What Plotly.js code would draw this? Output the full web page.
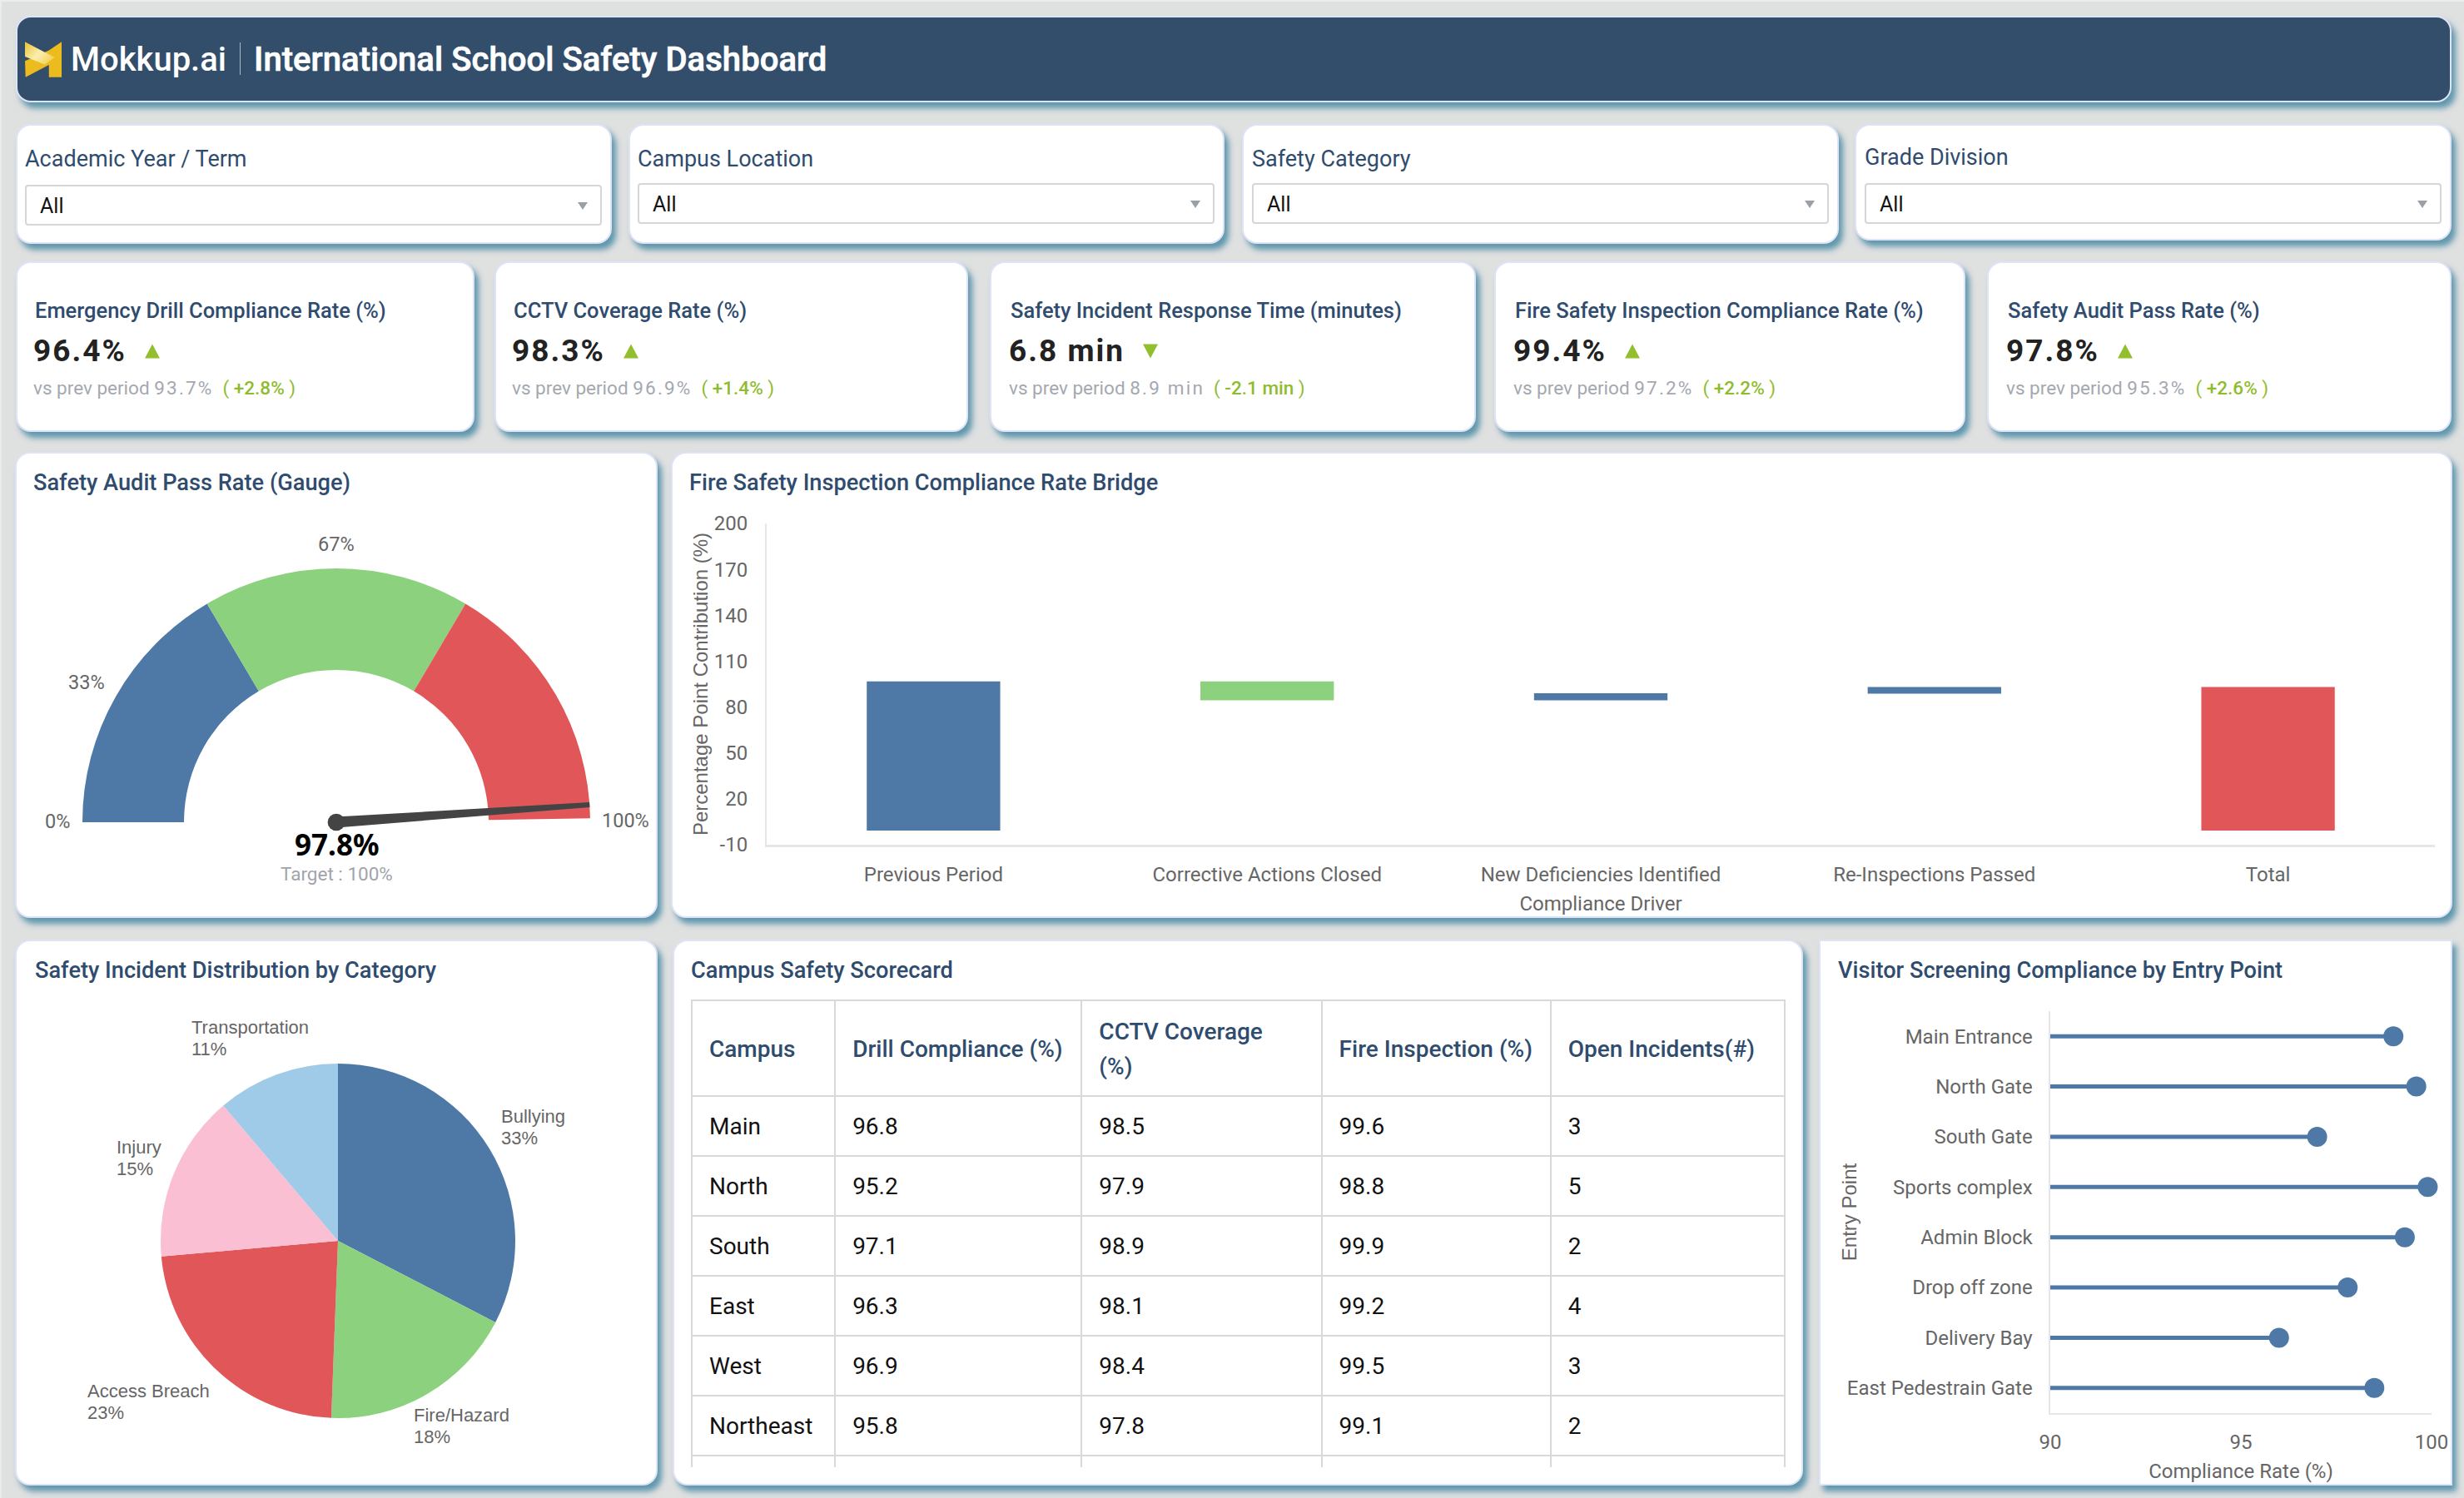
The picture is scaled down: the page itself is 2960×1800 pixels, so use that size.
<!DOCTYPE html>
<html><head><meta charset="utf-8">
<script src="https://cdn.plot.ly/plotly-3.0.1.min.js"></script>
<style>
html,body{margin:0;padding:0;width:2960px;height:1800px;overflow:hidden;background:#dfe0e0;font-family:Roboto,sans-serif}
.card{position:absolute;box-sizing:border-box;background:#fff;border:2px solid #dfe3f7;border-radius:18px;box-shadow:5px 7px 7px #5f97ad}
.abs{position:absolute;white-space:nowrap;line-height:1}
.title{color:#2f4c6e;font-weight:500;font-size:27.2px;transform:translateY(-50%)}
#chart{position:absolute;left:0;top:0;width:2960px;height:1800px}
#chart .scrollbar-kit{display:none}
#chart .cell-text{transform:translate(13px,17px)}
#chart #header .cell-text{transform:translate(13px,39px)}
#chart .g-y2title{transform:translateX(19px)}
</style></head><body>
<div id="chrome"></div>
<div id="chart"></div>
<script>
// ---- data ----
const dashboardTitle = "International School Safety Dashboard";
const brandName = "Mokkup.ai";
const filterLabels = ["Academic Year / Term","Campus Location","Safety Category","Grade Division"];
const filterValue = "All";
const kpiTitles = ["Emergency Drill Compliance Rate (%)","CCTV Coverage Rate (%)","Safety Incident Response Time (minutes)","Fire Safety Inspection Compliance Rate (%)","Safety Audit Pass Rate (%)"];
const kpiValues = ["96.4%","98.3%","6.8 min","99.4%","97.8%"];
const kpiUp = [true,true,false,true,true];
const kpiPrev = ["93.7%","96.9%","8.9 min","97.2%","95.3%"];
const kpiDelta = ["+2.8%","+1.4%","-2.1 min","+2.2%","+2.6%"];
const panelTitles = ["Safety Audit Pass Rate (Gauge)","Fire Safety Inspection Compliance Rate Bridge","Safety Incident Distribution by Category","Campus Safety Scorecard","Visitor Screening Compliance by Entry Point"];

const gaugeBands = [33,34,32.5];
const gaugeTicks = ["0%","33%","67%","100%"];
const gaugeValue = 97.8;
const gaugeTarget = 100;

const bridgeCategories = ["Previous Period","Corrective Actions Closed","New Deficiencies Identified","Re-Inspections Passed","Total"];
const bridgeBase = [-0.7,84.4,84.4,88.7,-0.7];
const bridgeHeight = [97.5,12.4,4.6,4.4,93.8];
const bridgeTicks = [-10,20,50,80,110,140,170,200];

const pieLabels = ["Bullying","Fire/Hazard","Access Breach","Injury","Transportation"];
const pieValues = [32.6,18,23,15.2,11.2];

const tableHeader = ["Campus","Drill Compliance (%)","CCTV Coverage<br>(%)","Fire Inspection (%)","Open Incidents(#)"];
const campusNames = ["Main","North","South","East","West","Northeast",""];
const drillCompliance = ["96.8","95.2","97.1","96.3","96.9","95.8",""];
const cctvCoverage = ["98.5","97.9","98.9","98.1","98.4","97.8",""];
const fireInspection = ["99.6","98.8","99.9","99.2","99.5","99.1",""];
const openIncidents = ["3","5","2","4","3","2",""];

const entryPoints = ["Main Entrance","North Gate","South Gate","Sports complex","Admin Block","Drop off zone","Delivery Bay","East Pedestrain Gate"];
const screeningRates = [99.0,99.6,97.0,99.9,99.3,97.8,96.0,98.5];
const screeningTicks = [90,95,100];

// ---- palette ----
const BLUE="#4E79A7",GREEN="#8CD17D",RED="#E15759",PINK="#FABFD2",SKY="#A0CBE8",GREY="#666666",AXIS="#e6e6e6";

// ---- page chrome (cards and text) ----
const W=2960,H=1800;
const chrome=document.getElementById('chrome');
function el(cls,css,html){const d=document.createElement('div');d.className=cls;d.style.cssText=css;if(html!==undefined)d.innerHTML=html;chrome.appendChild(d);return d;}
function card(x0,y0,x1,y1,extra){return el('card',`left:${x0}px;top:${y0}px;width:${x1-x0}px;height:${y1-y0}px;${extra||''}`);}

el('abs','left:0;top:0;width:2960px;height:2px;background:#ececec;');
el('abs','left:0;top:0;width:2px;height:1800px;background:#ececec;');
card(19,19,2945,123,'background:#324e6b;');
chrome.insertAdjacentHTML('beforeend',`<svg class="abs" style="left:30px;top:50px" width="44" height="43" viewBox="0 0 130 125">
<defs><linearGradient id="lg" x1="0" y1="0" x2="1" y2="0.7"><stop offset="0" stop-color="#e8c12f"/><stop offset="0.55" stop-color="#fbeeb0"/><stop offset="1" stop-color="#f3d25a"/></linearGradient></defs>
<path d="M130 0V125H85V82L2 125L0 68L48 47L85 30Z" fill="#ecbb1e"/><path d="M0 0L105 55L70 80L0 52Z" fill="url(#lg)"/></svg>`);
el('abs',`left:85px;top:72px;transform:translateY(-50%);color:#fff;font-size:40px;font-weight:500;`,brandName);
el('abs',`left:288px;top:51px;width:1px;height:39px;background:#a9b6c5;`);
el('abs',`left:305px;top:72px;transform:translateY(-50%);color:#fff;font-size:40px;font-weight:500;-webkit-text-stroke:0.7px #fff;letter-spacing:0.05px;`,dashboardTitle);

const filterBoxes=[[19,149,735,293,30,723,191,222],[755,149,1471,293,766,1459,191,220],[1492,149,2209,293,1504,2197,191,220],[2228,149,2945,289,2240,2933,189,220]];
filterLabels.forEach((t,i)=>{const b=filterBoxes[i];
  card(b[0],b[1],b[2],b[3]);
  el('abs',`left:${b[4]}px;top:${b[6]}px;transform:translateY(-50%);color:#2f4c6e;font-size:27px;`,t);
  el('abs',`box-sizing:border-box;left:${b[4]}px;top:${b[7]}px;width:${b[5]-b[4]}px;height:49px;border:2px solid #d6d6d6;border-radius:4px;background:#fff;`);
  el('abs',`left:${b[4]+18}px;top:${b[7]+25}px;transform:translateY(-50%);color:#111;font-size:25px;`,filterValue);
  el('abs',`left:${b[5]-29}px;top:${b[7]+21}px;width:0;height:0;border-left:6px solid transparent;border-right:6px solid transparent;border-top:9px solid #9aa0a6;`);
});

const kpiBoxes=[[19,570,42],[594,1163,617],[1189,1773,1214],[1795,2361,1820],[2387,2945,2412]];
kpiTitles.forEach((t,i)=>{const b=kpiBoxes[i];
  card(b[0],314,b[1],519);
  el('abs',`left:${b[2]}px;top:374px;transform:translateY(-50%);color:#2f4c6e;font-size:25.5px;font-weight:500;`,t);
  const tri=kpiUp[i]?'border-bottom:17px solid #92bf2d;':'border-top:17px solid #92bf2d;';
  el('abs',`left:${b[2]-2}px;top:421px;transform:translateY(-50%);color:#222;font-size:37px;font-weight:700;letter-spacing:2px;`,
     kpiValues[i]+`<span style="display:inline-block;width:0;height:0;margin-left:22px;vertical-align:3px;border-left:9px solid transparent;border-right:9px solid transparent;${tri}"></span>`);
  el('abs',`left:${b[2]-2}px;top:466px;transform:translateY(-50%);color:#a4a8b0;font-size:22.5px;`,
     `vs prev period <span style="letter-spacing:2.2px">${kpiPrev[i]}</span><span style="color:#8fbc2f;margin-left:11px">( <span style="font-weight:500">${kpiDelta[i]}</span> )</span>`);
});

card(18,543,790,1103);card(806,543,2946,1103);
card(18,1129,790,1785);card(808,1129,2166,1785);
card(2185,1129,2946,1785,'border-radius:0;');
el('abs title','left:40px;top:581px;',panelTitles[0]);
el('abs title','left:828px;top:581px;',panelTitles[1]);
el('abs title','left:42px;top:1167px;',panelTitles[2]);
el('abs title','left:830px;top:1167px;',panelTitles[3]);
el('abs title','left:2208px;top:1167px;',panelTitles[4]);

// ---- plotly helpers: page pixels to paper fractions ----
const px=x=>x/W, py=y=>1-y/H;
const domX=(a,b)=>[px(a),px(b)], domY=(top,bottom)=>[py(bottom),py(top)];
const tickFont={family:'Roboto',size:24,color:GREY};
const annotations=[];
function note(text,x,y,o){annotations.push(Object.assign({text,xref:'paper',yref:'paper',x:px(x),y:py(y),showarrow:false,xanchor:'center',yanchor:'middle',font:{family:'Roboto',size:23.5,color:GREY}},o||{}));}

// gauge
const GC={x:404,y:988,r:305};
const gaugeHidden=200-gaugeBands.reduce((a,b)=>a+b,0);
const gaugeTrace={type:'pie',values:[...gaugeBands,gaugeHidden],sort:false,direction:'clockwise',rotation:-90,hole:0.6,
  marker:{colors:[BLUE,GREEN,RED,'rgba(0,0,0,0)'],line:{width:0}},textinfo:'none',hoverinfo:'skip',showlegend:false,
  domain:{x:domX(GC.x-GC.r,GC.x+GC.r),y:domY(GC.y-GC.r,GC.y+GC.r)}};
note(gaugeTicks[0],86,987,{xanchor:'right'});
note(gaugeTicks[1],104,820);
note(gaugeTicks[2],404,654);
note(gaugeTicks[3],751,986);
note(gaugeValue.toFixed(1)+'%',404,1014,{font:{family:'Noto Sans',size:35,color:'#000',weight:700}});
note('Target : '+gaugeTarget+'%',404,1050,{font:{family:'Roboto',size:22.5,color:'#a0a4ab'}});
const theta=Math.PI*(1-gaugeValue/100);
const nx=Math.cos(theta),ny=Math.sin(theta),tx=-ny,ty=nx;
const needlePath=`M ${0.021*tx} ${0.021*ty} L ${nx+0.01*tx} ${ny+0.01*ty} L ${nx-0.01*tx} ${ny-0.01*ty} L ${-0.021*tx} ${-0.021*ty} Z`;
const shapes=[
 {type:'path',xref:'x3',yref:'y3',path:needlePath,fillcolor:'#444',line:{width:0},layer:'above'},
 {type:'circle',xref:'x3',yref:'y3',x0:-0.034,x1:0.034,y0:-0.034,y1:0.034,fillcolor:'#444',line:{width:0},layer:'above'}
];
const needleHolder={type:'scatter',x:[0],y:[0],xaxis:'x3',yaxis:'y3',mode:'markers',marker:{size:1,color:'rgba(0,0,0,0)'},hoverinfo:'skip',showlegend:false};

// bridge
const bridgeTrace={type:'bar',x:bridgeCategories,y:bridgeHeight,base:bridgeBase,xaxis:'x',yaxis:'y',width:0.4,
  marker:{color:[BLUE,GREEN,BLUE,BLUE,RED],line:{width:0}},hoverinfo:'skip',showlegend:false};

// pie
const pieTrace={type:'pie',labels:pieLabels,values:pieValues,sort:false,direction:'clockwise',rotation:0,
  marker:{colors:[BLUE,GREEN,RED,PINK,SKY],line:{width:0}},textinfo:'none',hoverinfo:'skip',showlegend:false,
  domain:{x:domX(406-213,406+213),y:domY(1491-213,1491+213)}};
const pieLabelSpots=[[600,1341],[495,1700],[103,1671],[138,1378],[228,1234]];
pieLabels.forEach((l,i)=>{const f={family:'Liberation Sans',size:22,color:GREY};
  note(l,pieLabelSpots[i][0],pieLabelSpots[i][1],{xanchor:'left',font:f});
  note(Math.round(pieValues[i])+'%',pieLabelSpots[i][0],pieLabelSpots[i][1]+26,{xanchor:'left',font:f});});

// table
const tableTrace={type:'table',domain:{x:domX(831,2144),y:domY(1202,1764)},columnwidth:[172,296,288,275,281],columnorder:[0,1,2,3,4],
  header:{values:tableHeader,height:115,align:'left',line:{color:'#d9d9d9',width:2},fill:{color:'#fff'},font:{family:'Roboto',size:28,color:'#2f4c6e',weight:500}},
  cells:{values:[campusNames,drillCompliance,cctvCoverage,fireInspection,openIncidents],height:72,align:'left',line:{color:'#d9d9d9',width:2},fill:{color:'#fff'},font:{family:'Roboto',size:28,color:'#111'}}};

// lollipop
const lollipopLines={type:'scatter',mode:'lines',xaxis:'x2',yaxis:'y2',cliponaxis:false,
  x:screeningRates.flatMap(v=>[screeningTicks[0],v,null]),y:entryPoints.flatMap(c=>[c,c,null]),
  line:{color:BLUE,width:5},hoverinfo:'skip',showlegend:false};
const lollipopDots={type:'scatter',mode:'markers',xaxis:'x2',yaxis:'y2',cliponaxis:false,x:screeningRates,y:entryPoints,
  marker:{color:BLUE,size:24},hoverinfo:'skip',showlegend:false};

const layout={width:W,height:H,margin:{l:0,r:0,t:0,b:0},paper_bgcolor:'rgba(0,0,0,0)',plot_bgcolor:'rgba(0,0,0,0)',showlegend:false,
  annotations,shapes,
  xaxis:{domain:domX(921,2925),anchor:'y',type:'category',categoryorder:'array',categoryarray:bridgeCategories,range:[-0.5,4.5],
    showgrid:false,zeroline:false,showline:true,linecolor:AXIS,linewidth:3,ticks:'outside',ticklen:12,tickcolor:'rgba(0,0,0,0)',tickfont:tickFont,
    title:{text:'Compliance Driver',font:tickFont,standoff:14}},
  yaxis:{domain:domY(629,1015),anchor:'x',range:[-10,200],tickmode:'array',tickvals:bridgeTicks,ticktext:bridgeTicks.map(String),
    showgrid:false,zeroline:false,showline:true,linecolor:AXIS,linewidth:2,ticks:'outside',ticklen:16,tickcolor:'rgba(0,0,0,0)',tickfont:tickFont,
    title:{text:'Percentage Point Contribution (%)',font:{family:'Liberation Sans',size:24,color:GREY},standoff:0}},
  xaxis2:{domain:domX(2463,2921),anchor:'y2',range:[90,100],tickmode:'array',tickvals:screeningTicks,
    showgrid:false,zeroline:false,showline:true,linecolor:AXIS,linewidth:2,ticks:'outside',ticklen:12,tickcolor:'rgba(0,0,0,0)',tickfont:tickFont,
    title:{text:'Compliance Rate (%)',font:tickFont,standoff:13}},
  yaxis2:{domain:domY(1215,1698),anchor:'x2',type:'category',categoryorder:'array',categoryarray:entryPoints,range:[7.5,-0.5],
    showgrid:false,zeroline:false,showline:true,linecolor:AXIS,linewidth:2,ticks:'outside',ticklen:14.5,tickcolor:'rgba(0,0,0,0)',tickfont:tickFont,
    title:{text:'Entry Point',font:{family:'Liberation Sans',size:24,color:GREY},standoff:0}},
  xaxis3:{domain:domX(GC.x-GC.r,GC.x+GC.r),anchor:'y3',range:[-1,1],visible:false,fixedrange:true},
  yaxis3:{domain:domY(GC.y-GC.r,GC.y+GC.r),anchor:'x3',range:[-1,1],visible:false,fixedrange:true}
};
function spaceHeaderLines(){document.querySelectorAll('#chart .cell-text tspan.line').forEach(t=>{if(t.textContent==='(%)'){t.setAttribute('dy','42px');t.closest('text').style.transform='translate(13px,52px)';}});}
Plotly.newPlot('chart',[needleHolder,bridgeTrace,lollipopLines,lollipopDots,gaugeTrace,pieTrace,tableTrace],layout,{displayModeBar:false}).then(()=>{spaceHeaderLines();setTimeout(spaceHeaderLines,200);});
</script>
</body></html>
